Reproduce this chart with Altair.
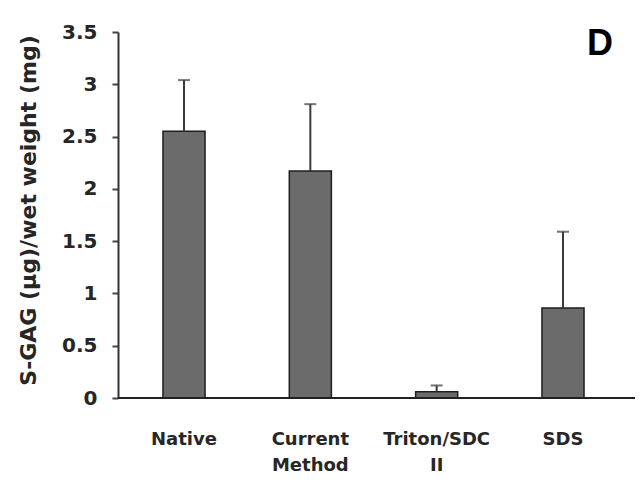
import altair as alt
import pandas as pd

categories = ["Native", "Current Method", "Triton/SDC II", "SDS"]
label_lines = [["Native"], ["Current", "Method"], ["Triton/SDC", "II"], ["SDS"]]
means = [2.55, 2.17, 0.06, 0.86]
errors = [0.49, 0.64, 0.06, 0.73]
y_ticks = [0, 0.5, 1, 1.5, 2, 2.5, 3, 3.5]
panel_label = "D"

df = pd.DataFrame({
    "cat": categories,
    "mean": means,
    "top": [m + e for m, e in zip(means, errors)],
})

W, H = 511, 366
FONT = "DejaVu Sans"
TXT = "#262626"

label_expr = ("{" + ",".join(
    f'"{c}": {lines!r}'.replace("'", '"') for c, lines in zip(categories, label_lines)
) + "}[datum.value]")

x = alt.X("cat:N", sort=categories, title=None,
          scale=alt.Scale(paddingInner=0.667, paddingOuter=0.356),
          axis=alt.Axis(labelAngle=0, labelFont=FONT, labelFontSize=18,
                        labelFontWeight="bold", labelColor=TXT, ticks=False,
                        domain=False, labelPadding=32, labelLineHeight=26,
                        labelExpr=label_expr))
y = alt.Y("mean:Q", title="S-GAG (µg)/wet weight (mg)",
          scale=alt.Scale(domain=[0, 3.5], nice=False),
          axis=alt.Axis(values=y_ticks, format="~g", grid=False, labelFont=FONT,
                        labelFontSize=20, labelFontWeight="bold", labelColor=TXT,
                        labelPadding=15, tickSize=6, tickColor="#444", tickWidth=2,
                        domainColor="#333", domainWidth=2,
                        titleFont=FONT, titleFontSize=22, titleFontWeight="bold",
                        titleColor=TXT, titleX=-90, titleY=H / 2 - 5,
                        titleAngle=-90, titleAlign="center", titleBaseline="middle"))

base = alt.Chart(df)
bars = base.mark_bar(color="#6b6b6b", stroke="#1e1e1e", strokeWidth=1.5).encode(x=x, y=y)
err = base.mark_rule(color="#3a3a3a", strokeWidth=2).encode(
    x=alt.X("cat:N", sort=categories), y="mean:Q", y2="top:Q")
caps = base.mark_tick(color="#3a3a3a", size=12, thickness=2).encode(
    x=alt.X("cat:N", sort=categories), y="top:Q")
xline = alt.Chart(pd.DataFrame({"v": [0]})).mark_rule(color="#222", strokeWidth=2).encode(
    x=alt.value(0), x2=alt.value(W + 30), y=alt.value(H))
dlabel = alt.Chart(pd.DataFrame({"t": [panel_label]})).mark_text(
    font="Liberation Sans", fontSize=36, fontWeight="bold", color="#000",
    align="center", baseline="alphabetic").encode(
    text="t:N", x=alt.value(482), y=alt.value(23))

chart = alt.layer(bars, err, caps, xline, dlabel).properties(
    width=W, height=H,
    autosize=alt.AutoSizeParams(type="none"),
    padding={"left": 110, "top": 24, "right": 6, "bottom": 75},
).configure_view(stroke=None)

chart.save("out.html", embed_options={"renderer": "svg", "actions": False})
